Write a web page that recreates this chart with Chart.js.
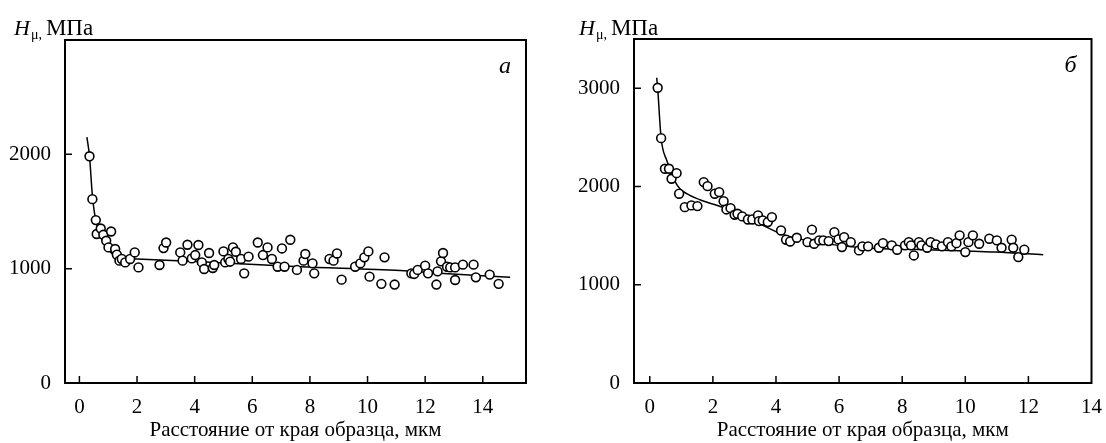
<!DOCTYPE html>
<html><head><meta charset="utf-8">
<script src="https://cdn.jsdelivr.net/npm/chart.js@4"></script>
<style>
html,body{margin:0;padding:0;background:#fff;}
#wrap{position:relative;width:1106px;height:443px;overflow:hidden;}
canvas{position:absolute;top:0;}
</style></head><body>
<div id="wrap">
<canvas id="cA" width="553" height="443" style="left:0;width:553px;height:443px"></canvas>
<canvas id="cB" width="553" height="443" style="left:553px;width:553px;height:443px"></canvas>
</div>
<script>
// ---- Panel а ----
const aPointX = [0.35,0.45,0.57,0.60,0.74,0.83,0.93,1.01,1.10,1.24,1.30,1.39,1.47,1.59,1.76,1.92,2.05,2.78,2.92,3.01,3.50,3.58,3.75,3.90,4.02,4.13,4.25,4.33,4.50,4.63,4.68,5.00,5.06,5.17,5.23,5.33,5.43,5.61,5.72,5.87,6.19,6.37,6.53,6.68,6.88,7.03,7.12,7.32,7.55,7.78,7.84,8.09,8.15,8.68,8.82,8.94,9.10,9.57,9.75,9.89,10.03,10.07,10.48,10.59,10.94,11.52,11.62,11.74,12.00,12.10,12.39,12.43,12.55,12.62,12.76,12.87,13.04,13.04,13.31,13.68,13.76,14.24,14.55];
const aPointY = [1983,1608,1425,1303,1351,1296,1244,1186,1325,1172,1122,1070,1085,1055,1085,1142,1011,1032,1180,1229,1142,1070,1209,1090,1119,1207,1055,997,1137,1006,1032,1151,1055,1085,1061,1186,1148,1085,959,1105,1229,1119,1186,1085,1017,1177,1017,1253,989,1070,1128,1046,959,1085,1070,1133,904,1017,1046,1099,1151,930,867,1099,861,959,954,989,1026,959,861,976,1064,1137,1017,1011,1011,901,1035,1035,924,948,867];
const aCurveX = [0.26,0.35,0.45,0.57,0.77,1.06,1.35,2.0,5.0,7.65,11.13,12.5,14.95];
const aCurveY = [2150,1985,1640,1420,1270,1150,1098,1085,1050,1017,983,959,925];
const aXTicks = [0,2,4,6,8,10,12,14];
const aYTicks = [0,1000,2000];

// ---- Panel б ----
const bPointX = [0.25,0.36,0.48,0.61,0.69,0.85,0.93,1.11,1.32,1.51,1.71,1.83,2.06,2.20,2.34,2.43,2.56,2.69,2.78,2.93,3.11,3.25,3.43,3.46,3.58,3.74,3.87,4.16,4.32,4.45,4.66,5.00,5.14,5.21,5.37,5.50,5.67,5.85,5.98,6.09,6.16,6.37,6.63,6.74,6.92,7.26,7.39,7.67,7.84,8.09,8.21,8.28,8.37,8.53,8.61,8.79,8.90,9.07,9.26,9.45,9.56,9.72,9.82,10.00,10.10,10.24,10.44,10.76,11.00,11.15,11.47,11.52,11.68,11.87];
const bPointY = [3004,2491,2180,2180,2078,2135,1926,1789,1807,1800,2044,2003,1926,1942,1850,1766,1779,1712,1722,1695,1664,1664,1705,1647,1654,1637,1688,1552,1458,1440,1478,1433,1560,1417,1451,1451,1444,1535,1461,1383,1484,1433,1349,1390,1390,1376,1423,1400,1356,1400,1433,1400,1298,1433,1400,1376,1433,1410,1390,1433,1390,1423,1502,1332,1433,1502,1417,1468,1451,1376,1458,1376,1281,1356];
const bCurveX = [0.22,0.25,0.36,0.54,0.87,1.17,1.59,2.43,3.27,4.21,4.95,6.74,8.84,10.95,12.47];
const bCurveY = [3106,3000,2490,2264,2010,1926,1865,1773,1654,1512,1451,1376,1356,1332,1305];
const bXTicks = [0,2,4,6,8,10,12,14];
const bYTicks = [0,1000,2000,3000];

const xTitle = 'Расстояние от края образца, мкм';
const SERIF = '"Liberation Serif", "Times New Roman", serif';

const framePlugin = {
  id: 'frame',
  beforeDatasetsDraw(chart) {
    const {ctx, chartArea: a, scales: {x, y}} = chart;
    ctx.save();
    ctx.strokeStyle = '#000';
    ctx.lineWidth = 2;
    ctx.strokeRect(a.left, a.top, a.right - a.left, a.bottom - a.top);
    ctx.lineWidth = 1.5;
    ctx.beginPath();
    x.ticks.forEach(t => {
      const px = x.getPixelForValue(t.value);
      if (px > a.right - 2) return;
      ctx.moveTo(px, a.bottom); ctx.lineTo(px, a.bottom - 7);
    });
    y.ticks.forEach(t => {
      if (t.value === 0) return;
      const py = y.getPixelForValue(t.value);
      ctx.moveTo(a.left, py); ctx.lineTo(a.left + 7, py);
    });
    ctx.stroke();
    ctx.restore();
  },
  afterDraw(chart, args, opts) {
    const {ctx, chartArea: a} = chart;
    ctx.save();
    ctx.fillStyle = '#000';
    ctx.textBaseline = 'alphabetic';
    ctx.textAlign = 'left';
    let x0 = a.left - opts.titleDx;
    const y0 = opts.titleY;
    ctx.font = 'italic 22px ' + SERIF;
    ctx.fillText('H', x0, y0);
    x0 += ctx.measureText('H').width;
    ctx.font = '14px ' + SERIF;
    ctx.fillText('μ,', x0 + 1, y0 + 4);
    x0 += ctx.measureText('μ,').width + 5;
    ctx.font = '23px ' + SERIF;
    ctx.fillText('МПа', x0, y0);
    ctx.font = 'italic 24px ' + SERIF;
    ctx.textAlign = 'right';
    ctx.fillText(opts.letter, a.right - 15, a.top + 33);
    ctx.restore();
  }
};

function makeChart(id, px, py, cx, cy, xt, yt, xmax, ymax, yW, pad, letter, titleDx) {
  const font = {family: SERIF, size: 21};
  return new Chart(document.getElementById(id), {
    type: 'scatter',
    data: {
      datasets: [
        {
          data: cx.map((v, i) => ({x: v, y: cy[i]})),
          showLine: true, borderColor: '#000', borderWidth: 1.5,
          pointRadius: 0, cubicInterpolationMode: 'monotone', fill: false, order: 2
        },
        {
          data: px.map((v, i) => ({x: v, y: py[i]})),
          showLine: false, pointRadius: 4.4, pointBorderWidth: 1.6,
          pointBackgroundColor: '#fff', pointBorderColor: '#000', order: 1
        }
      ]
    },
    options: {
      responsive: false, animation: false,
      layout: {padding: pad},
      plugins: {legend: {display: false}, tooltip: {enabled: false},
        frame: {letter: letter, titleDx: titleDx, titleY: 35}},
      scales: {
        x: {
          type: 'linear', min: -0.5, max: xmax,
          afterBuildTicks: s => { s.ticks = xt.map(v => ({value: v})); },
          afterFit: s => { s.height = 60; },
          ticks: {font: font, color: '#000', padding: 4, maxRotation: 0, autoSkip: false, callback: v => String(v)},
          grid: {display: false}, border: {display: false},
          title: {display: true, text: xTitle, font: font, color: '#000', padding: {top: 0, bottom: 0}}
        },
        y: {
          type: 'linear', min: 0, max: ymax,
          afterBuildTicks: s => { s.ticks = yt.map(v => ({value: v})); },
          afterFit: s => { s.width = yW; },
          ticks: {font: font, color: '#000', padding: 6, autoSkip: false, callback: v => String(v)},
          grid: {display: false}, border: {display: false}
        }
      }
    },
    plugins: [framePlugin]
  });
}

makeChart('cA', aPointX, aPointY, aCurveX, aCurveY, aXTicks, aYTicks, 15.5, 3000, 65,
  {left: 0, top: 40, right: 27, bottom: 0}, 'а', 51);
makeChart('cB', bPointX, bPointY, bCurveX, bCurveY, bXTicks, bYTicks, 14, 3500, 81,
  {left: 0, top: 39, right: 12, bottom: 0}, 'б', 55);
</script>
</body></html>
